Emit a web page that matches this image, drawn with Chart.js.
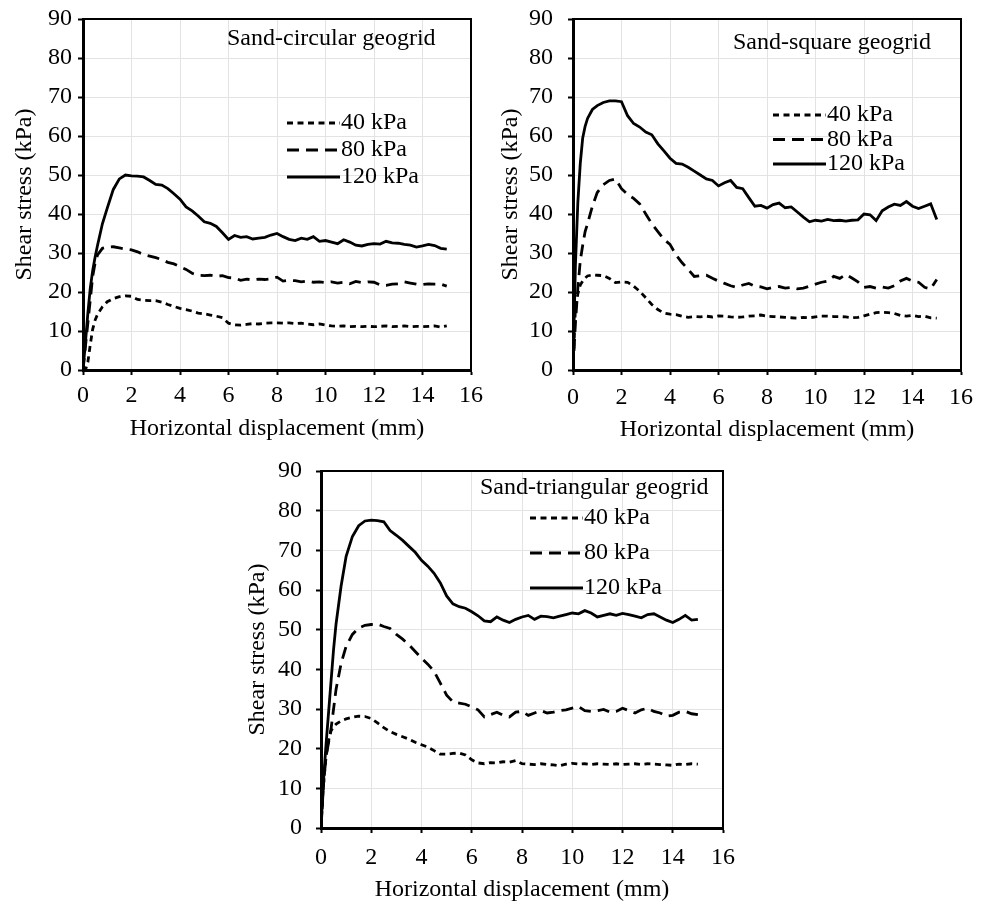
<!DOCTYPE html>
<html>
<head>
<meta charset="utf-8">
<script src="https://cdn.jsdelivr.net/npm/chart.js@4.4.1/dist/chart.umd.min.js"></script>
<style>
  body { margin: 0; background: #fff; width: 987px; height: 908px; position: relative; overflow: hidden; }
  canvas { position: absolute; }
</style>
</head>
<body>
<canvas id="circ" width="490" height="450" style="left:0;top:0"></canvas>
<canvas id="square" width="497" height="450" style="left:490px;top:0"></canvas>
<canvas id="tri" width="500" height="456" style="left:238px;top:452px"></canvas>
<script>
// horizontal displacement (mm), shared by all curves
const disp = [0,0.1,0.2,0.3,0.4,0.5,0.6,0.8,1,1.25,1.5,1.75,2,2.25,2.5,2.75,3,3.25,3.5,3.75,4,4.25,4.5,4.75,5,5.25,5.5,5.75,6,6.25,6.5,6.75,7,7.25,7.5,7.75,8,8.25,8.5,8.75,9,9.25,9.5,9.75,10,10.25,10.5,10.75,11,11.25,11.5,11.75,12,12.25,12.5,12.75,13,13.25,13.5,13.75,14,14.25,14.5,14.75,15];
const pressures = ['40 kPa', '80 kPa', '120 kPa'];
const panelNames = ['Sand-circular geogrid', 'Sand-square geogrid', 'Sand-triangular geogrid'];

// shear stress (kPa)
const circ40 = [0,0,2,6.5,10.5,12.8,14.3,16.2,17.5, 18.3,18.8,19.0,18.9,18.1,17.9,17.8,17.8, 17.4,16.8,16.3,15.8,15.5,15.1,14.6,14.4, 14.1,13.8,13.4,12.0,11.6,11.5,11.7,11.9, 11.8,12.0,12.1,12.1,12.0,12.1,11.9,12.0, 11.8,11.6,11.8,11.5,11.3,11.2,11.3,11.1, 11.2,11.1,11.2,11.1,11.2,11.3,11.1,11.2, 11.3,11.1,11.2,11.1,11.2,11.3,11.0,11.3];
const circ80 = [0,6,12,18,24,27.5,29.5,31.2,31.5, 31.6,31.3,31.0,30.8,30.3,29.6,29.2,28.8, 28.3,27.6,27.2,26.5,25.8,24.8,24.3,24.2, 24.3,24.0,24.2,23.7,23.6,23.0,23.3,23.1, 23.3,23.2,23.4,23.8,22.8,23.0,22.9,22.6, 22.8,22.5,22.6,22.4,22.6,22.3,22.5,22.1, 22.7,22.4,22.6,22.5,21.8,21.7,22.0,22.1, 22.6,22.3,22.0,21.9,22.1,22.0,22.0,21.5];
const circ120 = [0,7,14.5,21,25.5,29,32,37.5,41.5, 46.3,49,50,49.8,49.7,49.5,48.6,47.6, 47.4,46.5,45.2,43.8,41.8,40.8,39.5,38.0, 37.6,36.8,35.2,33.5,34.5,34.0,34.2,33.6, 33.8,34.0,34.6,35.0,34.2,33.5,33.2,33.8, 33.5,34.2,33.0,33.2,32.8,32.4,33.4,32.8, 32.0,31.8,32.2,32.4,32.3,33.0,32.6,32.5, 32.2,32.0,31.5,31.8,32.2,31.9,31.2,31.0];

const sq40 = [0,16,19.5,21.8,22.8,23.6,24.1,24.4,24.3, 24.2,23.5,22.4,22.6,22.5,21.5,20.2,18.5, 16.8,15.5,14.6,14.3,14.2,13.8,13.5,13.7, 13.6,13.8,13.6,13.9,13.8,13.6,13.5,13.6, 13.8,13.9,14.1,13.8,13.7,13.6,13.5,13.4, 13.3,13.5,13.4,13.6,13.8,13.8,13.7,13.7, 13.6,13.4,13.5,13.9,14.3,14.7,14.8,14.7, 14.5,14.0,13.8,14.0,13.7,13.8,13.4,13.3];
const sq80 = [0,12,21,28,32,35.5,37.5,42,45.5, 47.5,48.6,49.0,46.5,45.0,44.0,42.6,40.0, 37.5,35.5,33.5,32.2,29.5,27.5,25.8,24.0, 24.2,24.3,23.5,22.8,22.2,21.6,21.2,21.8, 22.2,21.5,21.3,20.8,21.2,21.4,21.0,21.2, 20.8,21.0,21.5,22.0,22.5,22.8,24.0,23.5, 24.5,23.6,22.6,21.2,21.4,21.0,21.3,21.0, 21.6,22.8,23.5,22.8,22.5,21.2,20.8,23.2];
const sq120 = [0,27,43,53,59.5,62.5,64.5,66.8,67.8, 68.6,69.0,69.0,68.8,65.2,63.2,62.3,61.0, 60.3,58.0,56.2,54.3,53.0,52.8,52.0,51.0, 50.0,49.0,48.6,47.2,48.0,48.6,46.8,46.5, 44.2,42.0,42.2,41.5,42.4,42.8,41.6,41.8, 40.5,39.2,38.0,38.4,38.2,38.6,38.3,38.4, 38.2,38.4,38.5,40.0,39.8,38.3,40.8,41.8, 42.5,42.2,43.2,42.0,41.4,42.0,42.6,38.6];

const tri40 = [0,11,18,22,24.5,25.5,26.2,27.0,27.5, 27.9,28.2,28.1,27.6,26.5,25.3,24.3,23.6, 23.0,22.4,21.6,21.0,20.4,19.5,18.6,18.6, 18.8,18.9,18.4,17.2,16.4,16.2,16.5,16.4, 16.7,16.6,17.0,16.2,16.1,16.0,16.2,16.0, 15.9,15.7,16.1,16.3,16.1,16.2,16.0,16.2, 16.1,16.0,16.2,16.0,16.1,16.2,16.0,16.2, 16.1,16.0,15.9,15.8,16.1,16.0,16.2,16.1];
const tri80 = [0,11,18,21.5,25,30,35,41.5,45.8, 48.8,50.4,51.1,51.3,51.4,50.8,50.3,48.8, 47.6,46.2,44.5,42.8,41.3,39.5,36.5,33.5, 31.8,31.5,31.2,30.5,29.8,28.0,28.6,29.2, 28.4,28.0,29.2,29.4,28.4,29.0,29.6,29.0, 29.2,29.6,29.8,30.2,30.6,29.6,29.4,29.6, 29.9,29.2,29.4,30.2,29.6,29.0,29.8,30.2, 29.4,29.0,28.2,28.4,29.2,29.4,28.8,28.6];
const tri120 = [0,12,21,29,37,45,51.5,61,68.5, 73.5,76.2,77.4,77.6,77.5,77.2,75.0,73.8, 72.5,71.0,69.5,67.5,66.0,64.2,61.8,58.5, 56.5,55.8,55.4,54.5,53.5,52.2,52.0,53.2, 52.4,51.8,52.6,53.2,53.6,52.6,53.4,53.3, 53.0,53.4,53.8,54.2,54.0,54.8,54.2,53.2, 53.6,54.0,53.6,54.1,53.8,53.4,53.0,53.8, 54.0,53.2,52.4,51.8,52.6,53.6,52.4,52.6];

const FONT = 'Liberation Serif, Times New Roman, serif';
const dashes = [[6, 4.5], [12, 7], []];

// plot frame, panel name and the hand-placed key
const panelKey = {
  id: 'panelKey',
  afterDraw(chart, args, o) {
    const ctx = chart.ctx;
    const a = chart.chartArea;
    ctx.save();
    ctx.strokeStyle = '#000';
    ctx.lineWidth = 2;
    ctx.strokeRect(a.left, a.top, a.right - a.left, a.bottom - a.top);
    ctx.fillStyle = '#000';
    ctx.font = '24px ' + FONT;
    ctx.textBaseline = 'middle';
    ctx.fillText(o.name, o.nameX, o.nameY);
    chart.data.datasets.forEach((ds, i) => {
      const y = o.keyY + i * o.keyGap;
      ctx.lineWidth = 2.8;
      ctx.setLineDash(ds.borderDash);
      ctx.beginPath();
      ctx.moveTo(o.keyX, y);
      ctx.lineTo(o.keyX + 53, y);
      ctx.stroke();
      ctx.setLineDash([]);
      ctx.fillText(ds.label, o.keyX + 54, y);
    });
    ctx.restore();
  }
};

function panel(id, series, lay) {
  const tickFont = {family: FONT, size: 24};
  new Chart(document.getElementById(id), {
    type: 'line',
    data: {
      datasets: series.map((v, i) => ({
        label: pressures[i],
        data: disp.map((x, k) => ({x: x, y: v[k]})),
        borderColor: '#000',
        borderWidth: 2.8,
        borderDash: dashes[i],
        pointRadius: 0,
        fill: false,
        tension: 0
      }))
    },
    options: {
      responsive: false,
      animation: false,
      devicePixelRatio: 1,
      layout: {padding: {left: 0, top: 19, right: lay.right, bottom: 0}},
      plugins: {
        legend: {display: false},
        tooltip: {enabled: false},
        panelKey: lay.key
      },
      scales: {
        x: {
          type: 'linear', min: 0, max: 16,
          ticks: {stepSize: 2, font: tickFont, color: '#000', padding: lay.xPad, maxRotation: 0},
          grid: {color: '#e3e3e3', lineWidth: 1, tickColor: '#000', tickLength: 5, tickWidth: 2},
          border: {color: '#000', width: 3},
          title: {display: true, text: 'Horizontal displacement (mm)', font: tickFont, color: '#000',
                  padding: {top: 0, bottom: lay.xTitle}},
          afterFit: s => { s.height = lay.xh; s.paddingLeft = 0; s.paddingRight = 0; }
        },
        y: {
          min: 0, max: 90,
          ticks: {stepSize: 10, font: tickFont, color: '#000', padding: lay.yPad},
          grid: {color: '#e3e3e3', lineWidth: 1, tickColor: '#000', tickLength: 5, tickWidth: 2},
          border: {color: '#000', width: 3},
          title: {display: true, text: 'Shear stress (kPa)', font: tickFont, color: '#000',
                  padding: {top: lay.yTitle, bottom: 0}},
          afterFit: s => { s.width = 83; s.paddingTop = 0; s.paddingBottom = 0; }
        }
      }
    },
    plugins: [panelKey]
  });
}

panel('circ', [circ40, circ80, circ120], {
  right: 19, xh: 80, xPad: 6, yPad: 6, xTitle: 7, yTitle: 10,
  key: {name: panelNames[0], nameX: 227, nameY: 39, keyX: 287, keyY: 123, keyGap: 27}
});
panel('square', [sq40, sq80, sq120], {
  right: 26, xh: 80, xPad: 8, yPad: 15, xTitle: 6, yTitle: 6,
  key: {name: panelNames[1], nameX: 243, nameY: 43, keyX: 283, keyY: 115, keyGap: 24.5}
});
panel('tri', [tri40, tri80, tri120], {
  right: 15, xh: 80, xPad: 10, yPad: 14, xTitle: 4, yTitle: 5,
  key: {name: panelNames[2], nameX: 242, nameY: 36, keyX: 292, keyY: 66, keyGap: 35}
});
</script>
</body>
</html>
